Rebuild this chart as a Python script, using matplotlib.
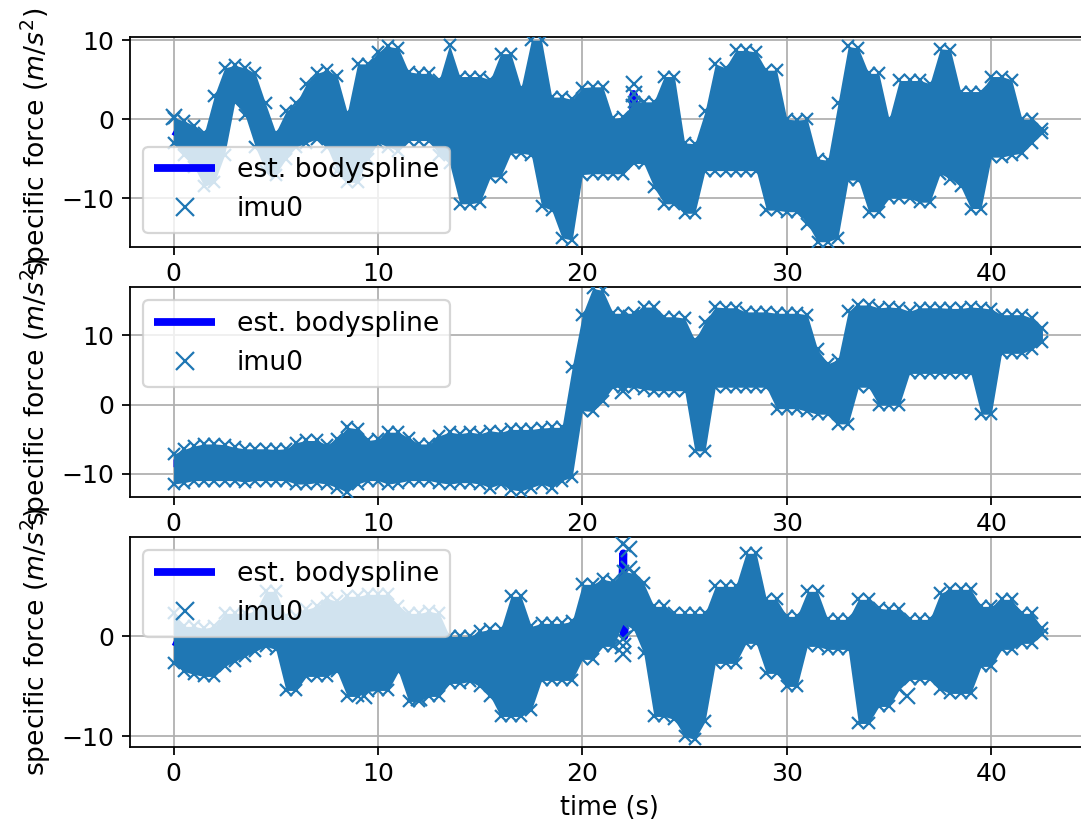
import numpy as np
import matplotlib
matplotlib.use('agg')
import matplotlib.pyplot as plt

# sample times of the read-off envelopes (s)
t = np.arange(0, 43, 0.5)

# panel 1 (x axis) envelope of the imu samples
hi_x = [0.2, -0.2, -0.8, -1.8, 3.0, 6.5, 6.8, 6.5, 5.8, 2.0, -1.7, 1.0, 2.0, 4.5, 5.8, 6.2, 5.5, 0.8,
        7.0, 7.0, 8.5, 9.2, 9.0, 6.0, 5.8, 5.8, 5.0, 9.4, 5.4, 5.4, 5.4, 5.0, 8.3, 8.3, 4.0, 10.0,
        10.0, 2.8, 2.8, 2.5, 4.0, 4.1, 4.1, 0.1, 0.3, 2.2, 2.2, 2.2, 5.4, 5.4, -3.0, -3.1, 1.0, 7.0,
        6.5, 8.7, 8.7, 8.5, 6.2, 6.2, 0.0, -0.1, 0.0, -5.0, -5.2, 2.0, 9.2, 9.0, 5.8, 5.8, 0.0, 4.9,
        4.9, 4.9, 4.5, 8.9, 8.8, 3.5, 3.5, 3.5, 5.4, 5.4, 5.0, 0.0, 0.0, -1.3]
lo_x = [-3.0, -4.5, -6.0, -8.5, -8.0, -4.5, 2.2, 0.5, -3.5, -6.5, -7.0, -5.0, -3.5, -3.0, -2.5, -3.5,
        -6.5, -8.0, -8.0, -5.0, -3.0, -3.5, -4.0, -2.7, -2.7, -2.7, -4.5, -5.6, -10.7, -10.7, -10.5,
        -7.3, -7.3, -4.3, -4.3, -4.5, -11.0, -11.5, -15.0, -15.3, -7.0, -6.9, -6.9, -6.9, -6.9, -5.6,
        -5.6, -8.6, -10.7, -10.7, -11.9, -11.9, -6.5, -6.5, -6.5, -6.5, -6.5, -6.5, -11.5, -11.5,
        -11.7, -11.7, -13.2, -15.5, -15.5, -15.0, -7.7, -7.7, -11.7, -11.7, -10.0, -10.0, -10.0,
        -10.5, -10.5, -6.9, -7.5, -8.5, -11.3, -11.3, -4.8, -4.8, -4.5, -4.3, -3.0, -1.8]

# panel 2 (y axis)
hi_y = [-7.2, -6.5, -6.0, -5.7, -5.7, -5.8, -6.2, -6.4, -6.4, -6.4, -6.5, -6.4, -5.5, -5.2, -5.2,
        -5.8, -5.0, -3.3, -3.5, -5.2, -5.0, -4.0, -4.0, -4.8, -5.7, -5.7, -4.5, -4.0, -4.2, -4.0,
        -4.2, -3.8, -4.0, -3.6, -3.6, -3.6, -3.4, -3.3, -3.3, 5.4, 13.0, 16.8, 16.5, 13.2, 13.2,
        13.2, 14.1, 14.1, 12.7, 12.7, 12.5, 9.3, 12.0, 14.1, 14.0, 14.0, 13.4, 13.4, 13.4, 13.2,
        13.2, 13.2, 13.0, 8.0, 5.9, 6.5, 13.5, 14.4, 14.4, 14.0, 14.1, 14.0, 13.5, 14.0, 14.0,
        14.0, 13.9, 13.9, 14.1, 14.0, 13.8, 13.0, 13.0, 13.0, 12.5, 11.0]
lo_y = [-11.5, -11.3, -11.0, -11.0, -11.0, -11.0, -11.0, -11.2, -11.0, -11.0, -11.0, -11.0, -11.5,
        -11.5, -11.3, -11.5, -12.0, -12.7, -11.5, -11.0, -11.0, -11.5, -11.3, -11.0, -11.0, -11.0,
        -11.3, -11.5, -11.3, -11.3, -11.5, -12.0, -11.5, -12.3, -12.5, -12.0, -11.5, -12.0, -11.0,
        -10.5, -0.9, -1.0, 0.5, 2.5, 2.5, 2.5, 2.2, 2.0, 2.0, 2.0, 2.0, -6.7, -6.7, 2.5, 2.5, 2.5,
        2.5, 2.5, 2.5, -0.6, -0.6, -0.6, -1.0, -1.4, -1.4, -2.8, -2.8, 2.5, 2.5, -0.1, -0.1, -0.1,
        4.5, 4.5, 4.5, 4.5, 4.5, 4.5, 4.5, -1.4, -1.4, 7.4, 7.4, 7.4, 8.0, 9.0]

# panel 3 (z axis)
hi_z = [2.3, 1.0, 1.0, 0.8, 1.0, 2.3, 2.3, 2.3, 2.5, 4.5, 4.5, 2.0, 2.0, 2.7, 3.0, 3.8, 3.5, 4.0,
        4.0, 4.2, 4.2, 4.2, 3.0, 2.3, 2.3, 2.5, 2.3, 0.0, 0.0, 0.0, 0.5, 0.7, 0.7, 4.0, 4.0, 1.0,
        1.3, 1.3, 1.3, 1.5, 5.2, 5.2, 5.7, 5.5, 6.5, 6.3, 5.3, 3.0, 3.0, 2.3, 2.3, 2.3, 2.3, 5.0,
        5.0, 5.0, 8.3, 8.3, 3.7, 3.7, 2.0, 2.0, 4.5, 4.5, 1.7, 1.7, 1.7, 3.7, 3.7, 2.8, 2.7, 2.7,
        1.7, 1.7, 1.7, 4.3, 4.7, 4.7, 4.7, 3.0, 3.0, 3.7, 3.7, 2.3, 2.3, 0.8]
lo_z = [-2.7, -3.5, -3.8, -4.0, -4.0, -3.0, -2.5, -2.0, -1.5, -1.0, -1.3, -5.4, -5.4, -4.0, -4.0,
        -4.0, -3.5, -6.0, -6.0, -5.5, -5.4, -5.4, -3.5, -6.5, -6.5, -6.0, -6.0, -4.7, -4.7, -4.5,
        -5.0, -6.0, -8.0, -8.0, -8.0, -7.4, -4.4, -4.4, -4.4, -4.4, -2.3, -2.3, -1.0, -1.0, 1.3,
        0.7, -1.7, -8.0, -8.0, -8.3, -10.0, -10.3, -8.5, -2.7, -2.7, -2.7, -0.7, -0.7, -3.7, -3.7,
        -5.0, -5.0, -1.0, -1.0, -1.3, -1.3, -1.3, -8.7, -8.7, -7.0, -7.0, -5.3, -4.3, -4.3, -4.3,
        -5.3, -5.7, -5.7, -5.7, -3.0, -3.0, -1.3, -1.3, -0.7, -0.7, 0.2]

# isolated imu samples that stick out of the band
out_t_x = [0.0, 22.5, 22.5, 22.5]
out_v_x = [0.3, 4.5, 3.2, 1.6]
out_t_y = [22.0, 22.0, 22.0, 22.4, 22.8]
out_v_y = [4.9, 3.5, 2.0, 12.5, 11.5]
out_t_z = [22.0, 22.3, 22.3, 22.0, 22.0, 22.0, 9.3, 12.0, 35.9]
out_v_z = [9.2, 8.7, 6.7, -0.3, -1.0, -1.8, -6.0, -6.2, -6.0]

# estimated body spline (mostly hidden under the imu samples)
spl_t_x = [0, 1, 2, 3, 4, 5, 6, 7, 8, 9, 10, 11, 12, 13, 14, 15, 16, 17, 18, 19, 20, 21, 22, 22.45,
           22.5, 22.55, 23, 24, 25, 26, 27, 28, 29, 30, 31, 32, 33, 34, 35, 36, 37, 38, 39, 40, 41,
           42, 42.5]
spl_v_x = [-1.5, -3.0, -2.5, 4.0, 1.0, -4.0, -1.0, 1.5, 0.0, -1.0, 2.5, 2.5, 1.5, 0.0, -2.5, -2.5,
           0.0, 0.0, 0.0, -6.0, -1.5, -1.5, -3.0, -2.0, 3.2, -2.0, -1.5, -2.5, -7.0, -2.5, 0.0, 1.0,
           -2.5, -5.0, -6.0, -10.0, 0.0, -3.0, -5.0, -2.5, -3.0, 0.0, -3.5, 0.0, 0.0, -1.5, -1.5]
spl_t_y = [0, 2, 4, 6, 8, 10, 12, 14, 16, 18, 19, 20, 21, 22, 23, 24, 25, 26, 27, 28, 29, 30, 31,
           32, 33, 34, 35, 36, 37, 38, 39, 40, 41, 42, 42.5]
spl_v_y = [-8.5, -8.5, -8.5, -8.5, -8.5, -8.0, -8.0, -8.0, -8.0, -8.0, -8.0, 5.0, 8.0, 8.0, 8.0,
           7.0, 7.0, 2.0, 8.0, 8.0, 8.0, 7.0, 6.0, 2.5, 5.0, 8.0, 7.0, 9.0, 9.0, 9.0, 9.0, 6.0, 10.0,
           10.0, 10.0]
spl_t_z = [0, 1, 2, 3, 4, 5, 6, 7, 8, 9, 10, 11, 12, 13, 14, 15, 16, 17, 18, 19, 20, 21, 21.9, 22.0,
           22.05, 22.1, 23, 24, 25, 26, 27, 28, 29, 30, 31, 32, 33, 34, 35, 36, 37, 38, 39, 40, 41,
           42, 42.5]
spl_v_z = [-0.5, -1.5, -1.5, 0.0, 0.5, 1.0, -1.5, -0.5, 0.0, -1.0, -0.5, 0.0, -2.0, -2.0, -2.5,
           -2.5, -3.5, -2.0, -1.5, -1.5, 1.5, 2.5, 3.0, 8.3, 0.0, 3.5, 2.0, -2.5, -4.0, -3.0, 1.0,
           3.5, 0.0, -1.5, 1.5, 0.2, 0.2, -2.5, -2.0, -1.3, -1.0, -0.5, -0.5, 0.0, 1.0, 0.8, 0.5]

panels = [
    (hi_x, lo_x, out_t_x, out_v_x, spl_t_x, spl_v_x, (-16.1, 10.4), 'lower left'),
    (hi_y, lo_y, out_t_y, out_v_y, spl_t_y, spl_v_y, (-13.3, 17.0), 'upper left'),
    (hi_z, lo_z, out_t_z, out_v_z, spl_t_z, spl_v_z, (-11.0, 9.93), 'upper left'),
]

plt.rcParams['font.size'] = 11.3
fig = plt.figure(figsize=(1081 / 160, 828 / 160), dpi=160)

tops = [37, 287, 537]
for i, (hi, lo, ot, ov, st, sv, ylim, loc) in enumerate(panels):
    top = tops[i]
    ax = fig.add_axes([130 / 1081, 1 - (top + 209.5) / 828, 958 / 1081, 209.5 / 828])
    ax.plot(st, sv, color='b', lw=3.5, solid_capstyle='butt', label='est. bodyspline', zorder=2)
    ax.fill_between(t, lo, hi, color='C0', lw=0, zorder=3)
    # envelope samples, alternating upper and lower
    ts = np.repeat(t, 2)
    vs = np.ravel(np.column_stack([hi, lo]))
    ax.plot(ts, vs, 'x', color='C0', ms=5, label='imu0', zorder=3)
    ax.plot(ot, ov, 'x', color='C0', ms=7.5, zorder=3)
    ax.set_xlim(-2.13, 44.73)
    ax.set_ylim(*ylim)
    ax.grid(True)
    ax.set_ylabel('specific force ($m/s^2$)', fontsize=12)
    leg = ax.legend(loc=loc, fontsize=12, handlelength=2.3)
    leg.legend_handles[1].set_markersize(8)
    if i == 2:
        ax.set_xlabel('time (s)', fontsize=11.5)

plt.savefig('out.png', dpi=160)
